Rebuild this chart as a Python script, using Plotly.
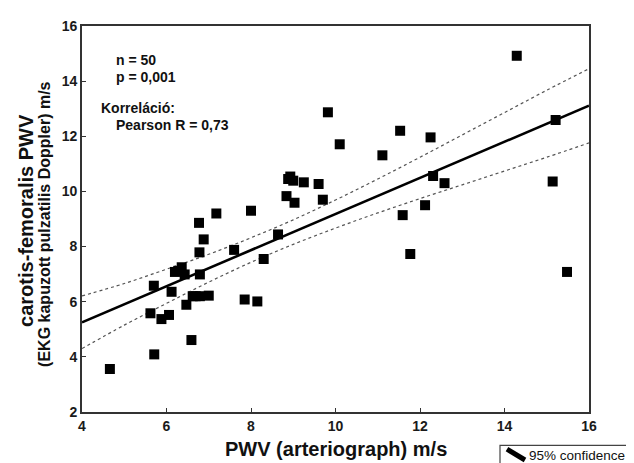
import plotly.graph_objects as go

# Scatter data
pwv_arterio = [4.66, 5.71, 5.70, 5.62, 5.88, 6.06, 6.12, 6.20, 6.36, 6.43,
               6.47, 6.59, 6.62, 6.79, 7.00, 6.78, 6.79, 6.88, 7.60, 7.85,
               8.15, 8.30, 8.64, 6.77, 7.18, 8.00, 8.84, 8.93, 9.00, 9.03,
               9.25, 9.60, 9.70, 9.82, 10.10, 11.11, 11.53, 12.25, 12.31, 12.58,
               12.12, 11.59, 11.77, 14.29, 15.21, 15.14, 15.48, 6.28, 8.88, 6.69]
pwv_doppler = [3.56, 4.09, 6.58, 5.58, 5.37, 5.52, 6.36, 7.08, 7.25, 6.99,
               5.89, 4.61, 6.20, 6.20, 6.22, 7.79, 6.99, 8.26, 7.88, 6.08,
               6.01, 7.55, 8.44, 8.86, 9.20, 9.30, 9.83, 10.54, 10.39, 9.59,
               10.33, 10.27, 9.70, 12.87, 11.71, 11.31, 12.20, 11.96, 10.56, 10.30,
               9.50, 9.14, 7.73, 14.92, 12.59, 10.36, 7.08, 7.12, 10.45, 6.20]

# Regression line and 95% confidence band
fit_x = [4, 16]
fit_y = [5.25, 13.11]
ci_x = [4, 5, 6, 7, 8, 9, 10, 11, 12, 13, 14, 15, 16]
ci_upper = [6.21, 6.66, 7.18, 7.72, 8.32, 8.97, 9.69, 10.45, 11.24, 12.05, 12.86, 13.67, 14.45]
ci_lower = [4.30, 5.15, 5.94, 6.71, 7.43, 8.08, 8.67, 9.22, 9.74, 10.24, 10.74, 11.24, 11.76]

FONT = "Liberation Sans, Arial, sans-serif"

fig = go.Figure()
fig.add_trace(go.Scatter(x=ci_x, y=ci_upper, mode="lines",
                         line=dict(color="#555555", width=1.2, dash="dot"),
                         line_shape="spline", showlegend=False, hoverinfo="skip"))
fig.add_trace(go.Scatter(x=ci_x, y=ci_lower, mode="lines",
                         line=dict(color="#555555", width=1.2, dash="dot"),
                         line_shape="spline", showlegend=False, hoverinfo="skip"))
fig.add_trace(go.Scatter(x=fit_x, y=fit_y, mode="lines",
                         line=dict(color="black", width=2.6),
                         showlegend=False, hoverinfo="skip"))
fig.add_trace(go.Scatter(x=pwv_arterio, y=pwv_doppler, mode="markers",
                         marker=dict(symbol="square", size=10, color="black",
                                     line=dict(width=0)),
                         showlegend=False))

axis_common = dict(
    showgrid=False, zeroline=False, ticks="inside", ticklen=4, tickwidth=1,
    tickcolor="#333333", showline=True, linecolor="#333333", linewidth=1.6,
    mirror=True, dtick=2,
    tickfont=dict(family=FONT, size=14, color="#1a1a1a", weight="bold"),
)

# page body adds an 8px offset; margins compensate so the plot area sits at
# screen x 82..589, y 18..412
fig.update_layout(
    width=634, height=455,
    margin=dict(l=74, r=53, t=10, b=51),
    paper_bgcolor="white", plot_bgcolor="white",
    xaxis=dict(range=[4, 16], **axis_common),
    yaxis=dict(range=[2, 16], **axis_common),
    font=dict(family=FONT, color="black"),
)

# In-plot statistics text
stats = [
    ("n = 50", 114, 53),
    ("p = 0,001", 114, 70),
    ("Korreláció:", 99, 102),
    ("Pearson R = 0,73", 114, 119),
]
for txt, px, py in stats:
    fig.add_annotation(text=txt, xref="paper", yref="paper",
                       x=(px - 82) / 507, y=(412 - py) / 394,
                       xanchor="left", yanchor="middle", showarrow=False,
                       font=dict(family=FONT, size=14, color="#111111", weight="bold"))

# Axis titles
fig.add_annotation(text="PWV (arteriograph) m/s", xref="paper", yref="paper",
                   x=0.5, y=(412 - 450) / 394, xanchor="center", yanchor="middle",
                   showarrow=False,
                   font=dict(family=FONT, size=20, color="#111111", weight="bold"))
fig.add_annotation(text="carotis-femoralis PWV", xref="paper", yref="paper",
                   x=(26 - 82) / 507, y=(412 - 217) / 394, xanchor="center",
                   yanchor="middle", textangle=-90, showarrow=False,
                   font=dict(family=FONT, size=20, color="#111111", weight="bold"))
fig.add_annotation(text="(EKG kapuzott pulzatilis Doppler) m/s", xref="paper", yref="paper",
                   x=(45 - 82) / 507, y=(412 - 221) / 394, xanchor="center",
                   yanchor="middle", textangle=-90, showarrow=False,
                   font=dict(family=FONT, size=16, color="#111111", weight="bold"))

# Legend box (cut off at the page edge)
fig.add_shape(type="rect", xref="paper", yref="paper",
              x0=(500 - 82) / 507, x1=(660 - 82) / 507,
              y0=(412 - 446) / 394, y1=(412 - 480) / 394,
              line=dict(color="#444444", width=1.2), fillcolor="white")
fig.add_shape(type="line", xref="paper", yref="paper",
              x0=(507 - 82) / 507, y0=(412 - 450) / 394,
              x1=(525 - 82) / 507, y1=(412 - 461) / 394,
              line=dict(color="black", width=5))
fig.add_annotation(text="95% confidence", xref="paper", yref="paper",
                   x=(527 - 82) / 507, y=(412 - 456) / 394, xanchor="left",
                   yanchor="middle", showarrow=False,
                   font=dict(family=FONT, size=13.5, color="#111111"))

fig.write_html("out.html")
